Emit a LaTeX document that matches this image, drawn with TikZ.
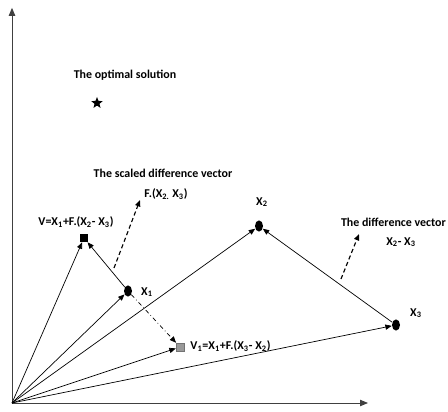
\documentclass[tikz,border=0pt]{standalone}
\usepackage{fontspec}
\setmainfont{Carlito}
\usepackage{tikz}
\usetikzlibrary{shapes.geometric,arrows.meta,positioning}

\begin{document}
\begin{tikzpicture}[
      pt/.style={ellipse, fill=black, inner sep=0pt,
                 minimum width=0.2cm, minimum height=0.28cm},
      sq/.style={rectangle, inner sep=0pt, minimum size=0.2cm},
      lbl/.style={font=\bfseries\fontsize{8.5}{10}\selectfont, inner sep=1pt},
      vec/.style={-{Triangle[length=1.6mm,width=1.3mm]}, line width=0.5pt},
      hint/.style={vec, dash pattern=on 3pt off 2pt, line width=0.8pt},
      axis/.style={-{Triangle[length=2mm,width=1.6mm]}, line width=0.7pt, color=black!75}
    ]
      \useasboundingbox (0,0) rectangle (11.2,10.275);
      %% axes
      \coordinate (O) at (0.30, 0.20);
      \coordinate (ytop) at (0.30, 10.08);
      \coordinate (xend) at (9.20, 0.20);
      \draw[axis] (O) -- (ytop);
      \draw[axis] (O) -- (xend);

      %% points
      \node[star, star points=5, star point ratio=2.3, fill=black,
            inner sep=0pt, minimum size=0.3cm] (best) at (2.425, 7.70) {};
      \node[pt] (x1) at (3.20, 3.00) {};
      \node[pt] (x2) at (6.475, 4.625) {};
      \node[pt] (x3) at (9.90, 2.15) {};
      \node[sq, fill=black] (v) at (2.10, 4.325) {};
      \node[sq, fill=black!40, draw=black!55, line width=0.3pt] (v1) at (4.50, 1.60) {};

      %% labels
      \node[lbl] (optlbl) at (3.125, 8.40) {The optimal solution};
      \node[lbl] (scllbl) at (4.075, 5.95) {The scaled difference vector};
      \node[lbl] (sclf) at (4.15, 5.425)
          {F.(X\textsubscript{2.} X\textsubscript{3})};
      \node[lbl] (vlbl) at (1.90, 4.725)
          {V=X\textsubscript{1}+F.(X\textsubscript{2}- X\textsubscript{3})};
      \node[lbl] (x1lbl) at (3.675, 2.975) {X\textsubscript{1}};
      \node[lbl] (x2lbl) at (6.55, 5.225) {X\textsubscript{2}};
      \node[lbl] (x3lbl) at (10.40, 2.45) {X\textsubscript{3}};
      \node[lbl, anchor=west] (v1lbl) at (4.72, 1.625)
          {V\textsubscript{1}=X\textsubscript{1}+F.(X\textsubscript{3}- X\textsubscript{2})};
      \node[lbl, anchor=east] (difflbl) at (11.19, 4.725) {The difference vector};
      \node[lbl] (diffx) at (10.025, 4.225)
          {X\textsubscript{2}- X\textsubscript{3}};

      %% vectors from the origin
      \foreach \p in {v, x1, x2, v1, x3}
          \draw[vec] (O) -- (\p);

      %% mutation
      \draw[vec] (x1) -- (v);
      \draw[vec] (x3) -- (x2);
      \draw[vec, dash dot] (x1) -- (v1);

      %% direction hints
      \coordinate (sclfoot) at (2.85, 3.575);
      \coordinate (scltip) at (3.50, 5.275);
      \draw[hint] (sclfoot) -- (scltip);
      \coordinate (difffoot) at (8.525, 3.30);
      \coordinate (difftip) at (8.975, 4.425);
      \draw[hint] (difffoot) -- (difftip);
    \end{tikzpicture}
\end{document}
